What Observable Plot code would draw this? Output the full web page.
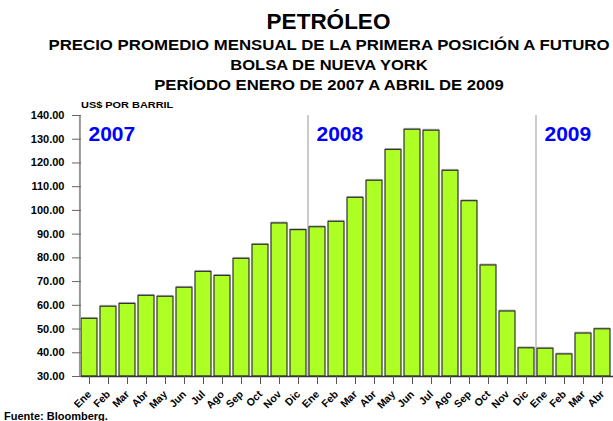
<!DOCTYPE html>
<html>
<head>
<meta charset="utf-8">
<script src="https://cdn.jsdelivr.net/npm/d3@7"></script>
<script src="https://cdn.jsdelivr.net/npm/@observablehq/plot@0.6"></script>
<style>
  html, body { margin: 0; padding: 0; background: #fff; overflow: hidden; }
  #wrap { position: relative; width: 613px; height: 421px; overflow: hidden; font-family: "Liberation Sans", Arial, sans-serif; font-weight: bold; color: #000; }
  #chart { position: absolute; left: 0; top: 0; width: 618px; height: 421px; }
  #chart svg { max-width: none !important; width: 618px !important; height: 421px !important; }
  .t { position: absolute; white-space: nowrap; left: 328.5px; line-height: 1; }
  #t1 { top: 11px; font-size: 22.5px; transform: translateX(-50%); }
  #t2 { top: 38px; font-size: 14px; transform: translateX(-50%) scaleX(1.2); }
  #t3 { top: 58px; font-size: 14px; transform: translateX(-50%) scaleX(1.18); }
  #t4 { top: 78px; font-size: 14px; transform: translateX(-50%) scaleX(1.19); }
  #unit { position: absolute; left: 81px; top: 99.5px; font-size: 9.5px; line-height: 1; transform: scaleX(1.15); transform-origin: left center; }
  #src { position: absolute; left: 4px; top: 411px; font-size: 11px; line-height: 1; }
</style>
</head>
<body>
<div id="wrap">
  <div id="chart"></div>
  <div class="t" id="t1">PETRÓLEO</div>
  <div class="t" id="t2">PRECIO PROMEDIO MENSUAL DE LA PRIMERA POSICIÓN A FUTURO</div>
  <div class="t" id="t3">BOLSA DE NUEVA YORK</div>
  <div class="t" id="t4">PERÍODO ENERO DE 2007 A ABRIL DE 2009</div>
  <div id="unit">US$ POR BARRIL</div>
  <div id="src">Fuente: Bloomberg.</div>
</div>
<script>
const months = ["Ene","Feb","Mar","Abr","May","Jun","Jul","Ago","Sep","Oct","Nov","Dic",
                "Ene","Feb","Mar","Abr","May","Jun","Jul","Ago","Sep","Oct","Nov","Dic",
                "Ene","Feb","Mar","Abr"];
const years = [2007,2007,2007,2007,2007,2007,2007,2007,2007,2007,2007,2007,
               2008,2008,2008,2008,2008,2008,2008,2008,2008,2008,2008,2008,
               2009,2009,2009,2009];
const prices = [54.3,59.4,60.6,64.0,63.6,67.4,74.1,72.4,79.6,85.5,94.5,91.7,
                92.9,95.2,105.3,112.5,125.5,134.0,133.6,116.7,103.9,76.8,57.4,41.9,
                41.7,39.3,48.1,49.9];
const yearLabels = ["2007","2008","2009"];
const yearStarts = ["Ene 2007","Ene 2008","Ene 2009"];
const yTicks = [30,40,50,60,70,80,90,100,110,120,130,140];

const data = months.map((m, i) => ({key: m + " " + years[i], month: m, price: prices[i]}));
const keys = data.map(d => d.key);
const yearData = yearLabels.map((l, i) => ({key: yearStarts[i], label: l}));

const plot = Plot.plot({
  width: 618,
  height: 421,
  marginTop: 115,
  marginBottom: 45,
  marginLeft: 81,
  marginRight: 0,
  style: {fontFamily: "Liberation Sans, Arial, sans-serif", fontWeight: "bold", background: "transparent", maxWidth: "none"},
  x: {domain: keys, padding: 0.14, align: 0},
  y: {domain: [30, 140]},
  marks: [
    Plot.ruleX(yearData.slice(1), {x: "key", dx: -9.5, y1: 30, y2: 140, stroke: "#999", strokeWidth: 1}),
    Plot.tickY(data, {x: "key", y: "price", dy: -1.2, stroke: "#bbb", strokeWidth: 1.5}),
    Plot.barY(data, {x: "key", y1: 30, y2: "price", fill: "#adff24", stroke: "#333", strokeWidth: 1.2}),
    Plot.ruleX([yearStarts[0]], {dx: -9.6, y1: 30, y2: 140, stroke: "#999", strokeWidth: 2}),
    Plot.ruleY([30], {stroke: "#333", strokeWidth: 1.5}),
    Plot.axisY({ticks: yTicks, tickFormat: d => d.toFixed(2), tickSize: 9, tickPadding: 8, fontSize: 11, stroke: "#666", label: null}),
    Plot.axisX({tickFormat: d => d.split(" ")[0], tickSize: 8, tickPadding: 8, tickRotate: -45, fontSize: 10.5, stroke: "#555", label: null}),
    Plot.text(yearData, {x: "key", y: 132.1, text: "label", textAnchor: "start", dx: -1, fill: "#0000ff", fontSize: 21, fontWeight: "bold"})
  ]
});
document.getElementById("chart").appendChild(plot);
</script>
</body>
</html>
